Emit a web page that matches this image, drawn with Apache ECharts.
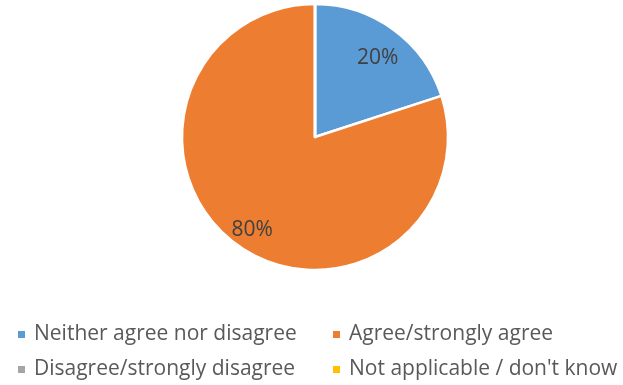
<!DOCTYPE html>
<html>
<head>
<meta charset="utf-8">
<script src="https://cdn.jsdelivr.net/npm/echarts@6/dist/echarts.min.js"></script>
<style>
  html, body { margin: 0; padding: 0; background: #ffffff; }
  #chart { width: 623px; height: 385px; }
</style>
</head>
<body>
<div id="chart"></div>
<script>
// Survey response shares (percent)
const categories = [
  'Neither agree nor disagree',
  'Agree/strongly agree',
  'Disagree/strongly disagree',
  "Not applicable / don't know"
];
const shares = [20, 80, 0, 0];
const colors = ['#5B9BD5', '#ED7D31', '#A5A5A5', '#FFC000'];

const FONT = '"Open Sans", sans-serif';
const FONT_SIZE = 21;
const CX = 315, CY = 137, R = 133;

// legend grid: two columns, two rows
const legendCols = [11, 326];
const legendRows = [319, 354];

const pieData = categories.map((name, i) => ({
  name: name,
  value: shares[i],
  itemStyle: { color: colors[i] }
}));

const legends = categories.map((name, i) => ({
  orient: 'horizontal',
  left: legendCols[i % 2],
  top: legendRows[Math.floor(i / 2)],
  itemWidth: 9,
  itemHeight: 9,
  icon: 'rect',
  selectedMode: false,
  textStyle: { color: '#595959', fontSize: FONT_SIZE, fontFamily: FONT, padding: [0, 0, 0, 3] },
  data: [name]
}));

const chart = echarts.init(document.getElementById('chart'), null, { renderer: 'canvas' });

chart.setOption({
  animation: false,
  legend: legends,
  series: [
    {
      // the pie itself
      type: 'pie',
      center: [CX, CY],
      radius: [0, R],
      startAngle: 90,
      clockwise: true,
      avoidLabelOverlap: false,
      silent: true,
      label: { show: false },
      labelLine: { show: false },
      itemStyle: { borderColor: '#ffffff', borderWidth: 2.5 },
      data: pieData
    },
    {
      // transparent ring carrying the percentage labels
      type: 'pie',
      center: [CX, CY],
      radius: [R * 0.56, R],
      startAngle: 90,
      clockwise: true,
      silent: true,
      avoidLabelOverlap: false,
      itemStyle: { color: 'rgba(0,0,0,0)', borderWidth: 0 },
      label: {
        show: true,
        position: 'inside',
        offset: [0, 7],
        formatter: (p) => (p.value > 0 ? p.value + '%' : ''),
        color: '#404040',
        fontSize: FONT_SIZE,
        fontFamily: FONT
      },
      labelLine: { show: false },
      data: categories.map((name, i) => ({ name: name, value: shares[i] }))
    }
  ]
});
</script>
</body>
</html>
